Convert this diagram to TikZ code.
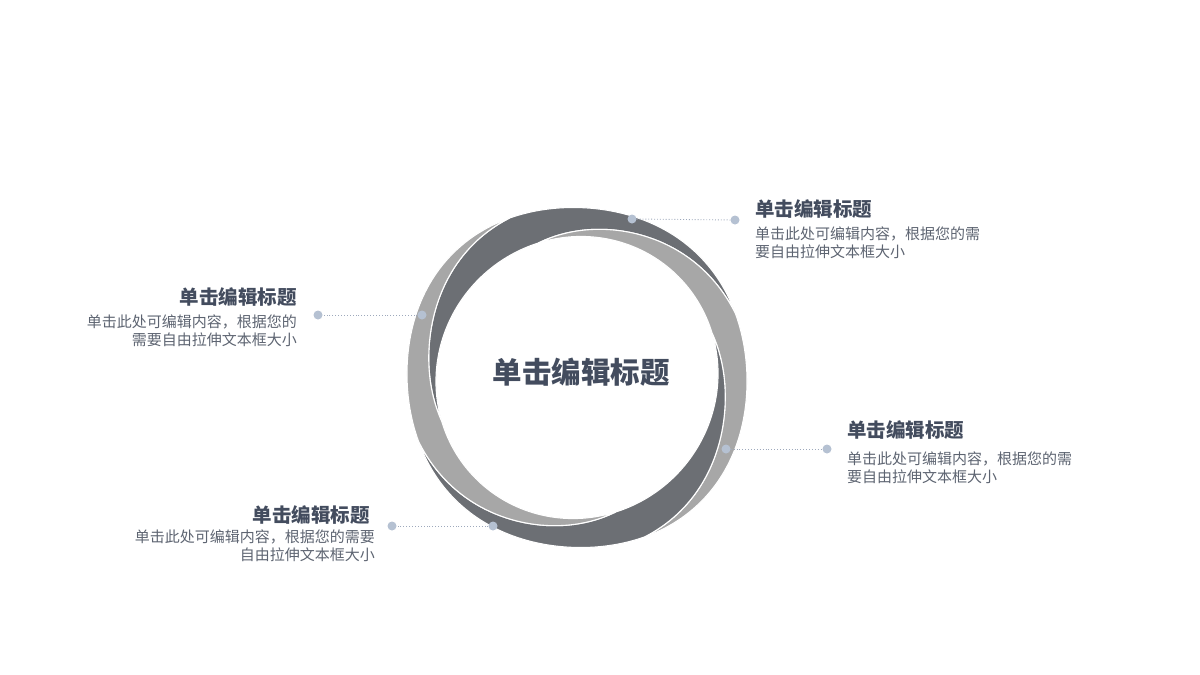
\documentclass[tikz,border=0pt]{standalone}
\usepackage{fontspec}
\newfontfamily\cjk{Noto Sans CJK SC}
\newlength{\du}
\setlength{\du}{1pt}

\begin{document}
\begin{tikzpicture}[
  declare function={
    ringout(\a)=172-2*cos(4*\a)+1.5*cos(2*\a-270);
    ringin(\a)=141+2*cos(2*\a-90);
    spiralA(\a)=ringin(\a)+(ringout(\a)-ringin(\a))*(106-\a)/84;
    spiralB(\a)=ringin(\a)+(ringout(\a)-ringin(\a))*(198-\a)/85;
  },
  ringline/.style={draw=white, line width=1.1\du, line join=round},
  pin/.style={circle, fill=pincolor, draw=none, inner sep=0pt, minimum size=9\du},
  leader/.style={draw=leadcolor, line width=0.9\du, dotted},
  bigtitle/.style={font={\cjk\bfseries\fontsize{29.5}{34}\selectfont}, text=headcolor, inner sep=0pt},
  headtext/.style={font={\cjk\bfseries\fontsize{19.5}{23}\selectfont}, text=headcolor, inner sep=0pt},
  bodytext/.style={font={\cjk\fontsize{15}{18}\selectfont}, text=bodycolor, inner sep=0pt}
]
\pgftransformxscale{1.000000}
\pgftransformyscale{-1.000000}
\definecolor{darkring}{rgb}{0.424000, 0.435000, 0.455000}
\definecolor{palering}{rgb}{0.655000, 0.655000, 0.655000}
\definecolor{headcolor}{rgb}{0.263000, 0.298000, 0.369000}
\definecolor{bodycolor}{rgb}{0.365000, 0.392000, 0.443000}
\definecolor{pincolor}{rgb}{0.710000, 0.757000, 0.824000}
\definecolor{leadcolor}{rgb}{0.620000, 0.663000, 0.737000}
\useasboundingbox (0\du,0\du) rectangle (1200\du,675\du);
% the two woven bands, each in two halves
\foreach \turn in {0,180}
{
\begin{scope}[shift={(577\du,377.5\du)}, x=\du, y=\du, rotate=\turn]
\fill[darkring, ringline] plot[domain=22:113, samples=60] ({-\x}:{ringout(\x)})
  -- plot[domain=113:198, samples=60] ({-\x}:{spiralB(\x)})
  -- plot[domain=198:106, samples=60] ({-\x}:{ringin(\x)})
  -- plot[domain=106:22, samples=60] ({-\x}:{spiralA(\x)}) -- cycle;
\fill[palering, ringline] plot[domain=293:382, samples=60] ({-\x}:{ringout(\x)})
  -- plot[domain=22:106, samples=60] ({-\x}:{spiralA(\x)})
  -- plot[domain=106:18, samples=60] ({-\x}:{ringin(\x)})
  -- plot[domain=378:293, samples=60] ({-\x}:{spiralB(\x-180)}) -- cycle;
\end{scope}
}
\node[bigtitle, anchor=base] (title) at (581\du,383\du) {单击编辑标题};
% top right
\node[pin] (ringA) at (632\du,219\du) {};
\node[pin] (endA) at (735\du,220\du) {};
\draw[leader] (ringA) -- (endA);
\node[headtext, anchor=base west] (headA) at (755\du,216.4\du) {单击编辑标题};
\node[bodytext, anchor=north west, align=left] (bodyA) at (755\du,226.5\du) {单击此处可编辑内容，根据您的需\\要自由拉伸文本框大小};
% left
\node[pin] (ringB) at (422\du,315\du) {};
\node[pin] (endB) at (318\du,315\du) {};
\draw[leader] (ringB) -- (endB);
\node[headtext, anchor=base east] (headB) at (297\du,304.4\du) {单击编辑标题};
\node[bodytext, anchor=north east, align=right] (bodyB) at (297\du,314.5\du) {单击此处可编辑内容，根据您的\\需要自由拉伸文本框大小};
% right
\node[pin] (ringC) at (726\du,449\du) {};
\node[pin] (endC) at (827\du,449\du) {};
\draw[leader] (ringC) -- (endC);
\node[headtext, anchor=base west] (headC) at (847\du,437.4\du) {单击编辑标题};
\node[bodytext, anchor=north west, align=left] (bodyC) at (847\du,451.5\du) {单击此处可编辑内容，根据您的需\\要自由拉伸文本框大小};
% bottom left
\node[pin] (ringD) at (493\du,526\du) {};
\node[pin] (endD) at (392\du,526\du) {};
\draw[leader] (ringD) -- (endD);
\node[headtext, anchor=base east] (headD) at (370\du,522.4\du) {单击编辑标题};
\node[bodytext, anchor=north east, align=right] (bodyD) at (375\du,529.5\du) {单击此处可编辑内容，根据您的需要\\自由拉伸文本框大小};
\end{tikzpicture}
\end{document}
